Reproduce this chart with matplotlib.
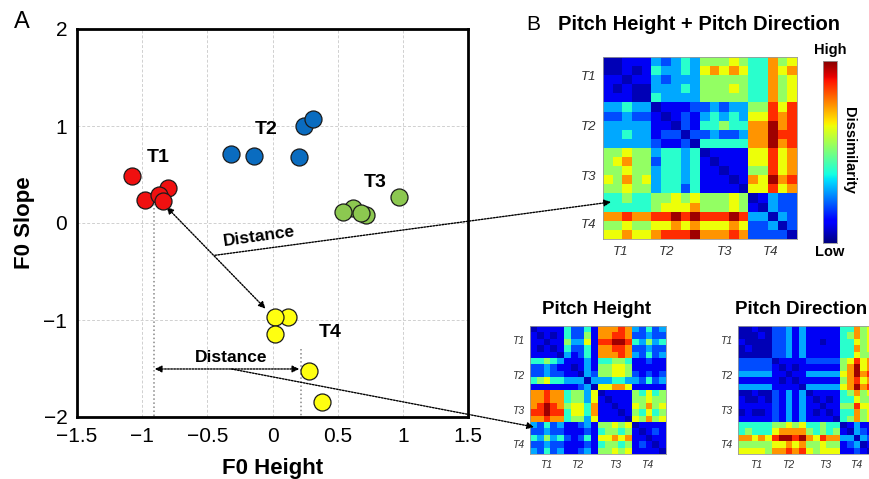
import matplotlib
matplotlib.use("Agg")
import matplotlib.pyplot as plt
import numpy as np

plt.rcParams["font.family"] = ["Liberation Sans", "DejaVu Sans"]

# ---------------------------------------------------------------------------
# Panel A: tone tokens in F0 height / F0 slope space
# ---------------------------------------------------------------------------
T1_X = [-1.08, -0.80, -0.98, -0.87, -0.84]
T1_Y = [0.48, 0.36, 0.24, 0.29, 0.23]
T2_X = [-0.32, -0.14, 0.20, 0.24, 0.31]
T2_Y = [0.71, 0.69, 0.68, 1.00, 1.07]
T3_X = [0.62, 0.54, 0.72, 0.68, 0.97]
T3_Y = [0.15, 0.11, 0.08, 0.10, 0.27]
T4_X = [0.12, 0.02, 0.02, 0.28, 0.38]
T4_Y = [-0.97, -0.97, -1.14, -1.53, -1.85]

TONES = ["T1", "T2", "T3", "T4"]
TONE_COLORS = ["#f01010", "#0a6cc0", "#8cc850", "#ffff10"]
LABEL_POS = [(-0.88, 0.68), (-0.05, 0.96), (0.79, 0.42), (0.44, -1.13)]

# ---------------------------------------------------------------------------
# Panel B: dissimilarity matrices (levels 0 = low ... 9 = high), 5 tokens/tone
# ---------------------------------------------------------------------------
LEVEL_VALUES = [0.05, 0.105, 0.20, 0.29, 0.40, 0.53, 0.64, 0.75, 0.86, 0.97]

BOTH_ROWS = [
    "00111 32343 55565 44756",
    "00101 43343 67676 44767",
    "11011 32333 55555 44756",
    "10100 33343 55565 44756",
    "11100 43333 55555 44756",
    "33433 01112 23233 55868",
    "22322 10121 34343 66878",
    "33333 11021 44544 77978",
    "33433 12202 23223 77988",
    "33333 21120 44444 77978",
    "55655 34434 01111 66867",
    "56755 24434 10111 66867",
    "55655 34434 11011 55867",
    "65756 34434 11101 76978",
    "55655 34424 11110 66867",
    "44544 55656 55565 01322",
    "44444 56667 55565 10322",
    "77877 88989 88898 33032",
    "55655 66767 66676 22302",
    "66766 78889 77787 22220",
]

HEIGHT_ROWS = [
    "01111 42241 77787 32423",
    "10101 42251 77887 22322",
    "11011 53361 88998 43534",
    "10101 42241 77887 22322",
    "11110 31241 77787 32423",
    "44543 11131 44554 11211",
    "22321 10131 55665 11111",
    "22322 11032 55665 21212",
    "45644 33303 33443 32423",
    "11111 11230 66776 11111",
    "77877 45536 01111 54645",
    "77877 45536 10111 55655",
    "78987 56647 11011 65756",
    "88988 46647 11101 54645",
    "77877 45536 11110 65756",
    "32423 11231 55656 01111",
    "22322 11121 45545 10121",
    "43534 21241 66767 11011",
    "22322 11121 45545 12101",
    "32423 11231 55656 11110",
]

DIRECTION_ROWS = [
    "00100 22313 11111 44756",
    "00010 22313 11111 45756",
    "10000 22313 11011 44656",
    "01000 22313 11111 44756",
    "00000 22313 11111 44655",
    "22222 01111 22222 56867",
    "22222 10101 11111 57967",
    "33333 11011 33333 67978",
    "11111 10101 11111 57867",
    "33333 11110 33333 67978",
    "00100 21313 01111 45756",
    "10010 21313 10101 44655",
    "11111 21313 11011 55866",
    "01001 21313 10101 44756",
    "11111 21313 11110 45756",
    "44444 55656 44544 01311",
    "45444 67777 54545 10321",
    "77676 89989 76877 33032",
    "55555 66767 55655 12301",
    "66665 77878 65666 11210",
]


def levels(rows):
    return np.array([[LEVEL_VALUES[int(c)] for c in r.replace(" ", "")] for r in rows])


def draw_rdm(ax, mat, rpos, cpos, fs, pad):
    ax.imshow(mat, cmap="jet", vmin=0, vmax=1, aspect="auto", interpolation="nearest")
    ax.set_xticks(cpos)
    ax.set_xticklabels(TONES, fontsize=fs, style="italic", color="#333333")
    ax.set_yticks(rpos)
    ax.set_yticklabels(TONES, fontsize=fs, style="italic", color="#333333")
    ax.tick_params(length=0, pad=pad)
    for s in ax.spines.values():
        s.set_color("#999999")
        s.set_linewidth(0.6)


W, H = 869, 479
fig = plt.figure(figsize=(W / 100, H / 100), dpi=100)


def fx(px):
    return px / W


def fy(py):
    return 1 - py / H


# ---------------------------------------------------------------------------
# Panel A
# ---------------------------------------------------------------------------
ax = fig.add_axes([fx(77), fy(417), fx(468) - fx(77), fy(29) - fy(417)])
ax.set_zorder(5)
ax.set_xlim(-1.5, 1.5)
ax.set_ylim(-2, 2)
ax.set_xticks(np.arange(-1.5, 1.51, 0.5))
ax.set_xticklabels(["\u22121.5", "\u22121", "\u22120.5", "0", "0.5", "1", "1.5"])
ax.set_yticks([-2, -1, 0, 1, 2])
ax.set_yticklabels(["\u22122", "\u22121", "0", "1", "2"])
ax.tick_params(labelsize=15, length=0, pad=7)
ax.grid(color="#d0d0d0", linestyle=(0, (3, 2)), linewidth=0.7)
ax.set_axisbelow(True)
for s in ax.spines.values():
    s.set_linewidth(2)
ax.set_xlabel("F0 Height", fontsize=16, fontweight="bold", labelpad=9)
ax.set_ylabel("F0 Slope", fontsize=16, fontweight="bold", labelpad=6)

# guide lines
ax.plot([-0.91, -0.91], [0.2, -2], color="#888888", linestyle=":", linewidth=1.1, zorder=1)
ax.plot([0.217, 0.217], [-1.3, -2], color="#888888", linestyle=":", linewidth=1.1, zorder=1)

arrow_kw = dict(arrowstyle="<|-|>", linestyle=(0, (1.2, 1)), color="black", lw=1.0,
                mutation_scale=10, shrinkA=0, shrinkB=0)
ax.annotate("", xy=(-0.813, 0.165), xytext=(-0.054, -0.883), arrowprops=arrow_kw)
ax.annotate("", xy=(-0.903, -1.505), xytext=(0.205, -1.505), arrowprops=arrow_kw)

for xs, ys, c in zip([T1_X, T2_X, T3_X, T4_X], [T1_Y, T2_Y, T3_Y, T4_Y], TONE_COLORS):
    ax.scatter(xs, ys, s=150, color=c, edgecolor="#1a1a1a", linewidth=0.9, zorder=3)

for t, (lx, ly) in zip(TONES, LABEL_POS):
    ax.text(lx, ly, t, fontsize=14, fontweight="bold", ha="center", va="center")

ax.text(-0.10, -0.14, "Distance", fontsize=12.5, fontweight="bold", ha="center",
        va="center", rotation=8)
ax.text(-0.315, -1.39, "Distance", fontsize=12.5, fontweight="bold", ha="center", va="center")

link_kw = dict(arrowstyle="-|>", linestyle=(0, (1.2, 1)), color="black", lw=1.0,
               mutation_scale=10, shrinkA=0, shrinkB=0)
ax.annotate("", xy=(fx(611), fy(202)), xycoords="figure fraction",
            xytext=(-0.442, -0.333), textcoords="data", arrowprops=link_kw,
            annotation_clip=False)
ax.annotate("", xy=(fx(534), fy(427)), xycoords="figure fraction",
            xytext=(-0.315, -1.505), textcoords="data", arrowprops=link_kw,
            annotation_clip=False)

fig.text(fx(22), fy(22), "A", fontsize=17, ha="center", va="center")

# ---------------------------------------------------------------------------
# Panel B
# ---------------------------------------------------------------------------
fig.text(fx(533), fy(24), "B", fontsize=15, ha="center", va="center")
fig.text(fx(699), fy(24), "Pitch Height + Pitch Direction", fontsize=14.5,
         fontweight="bold", ha="center", va="center")

ax_b = fig.add_axes([fx(603), fy(239), fx(797) - fx(603), fy(57) - fy(239)])
draw_rdm(ax_b, levels(BOTH_ROWS), [1.5, 7.0, 12.5, 17.8], [1.3, 6.1, 12.0, 16.8], 9.5, 5)

cax = fig.add_axes([fx(823), fy(243), fx(837) - fx(823), fy(61) - fy(243)])
grad = np.linspace(0, 1, 256).reshape(-1, 1)
cax.imshow(grad, cmap="jet", aspect="auto", origin="lower")
cax.set_xticks([])
cax.set_yticks([])
for s in cax.spines.values():
    s.set_color("#999999")
    s.set_linewidth(0.6)
fig.text(fx(830), fy(50), "High", fontsize=10.5, fontweight="bold", ha="center", va="center")
fig.text(fx(830), fy(252), "Low", fontsize=10.5, fontweight="bold", ha="center", va="center")
fig.text(fx(849), fy(150), "Dissimilarity", fontsize=10.5, fontweight="bold",
         ha="center", va="center", rotation=270)

ax_h = fig.add_axes([fx(530), fy(454), fx(666) - fx(530), fy(326) - fy(454)])
draw_rdm(ax_h, levels(HEIGHT_ROWS), [1.7, 7.2, 12.6, 17.9], [1.8, 6.5, 12.0, 16.7], 7.5, 4)
fig.text(fx(597), fy(310), "Pitch Height", fontsize=13.5, fontweight="bold",
         ha="center", va="center")

ax_d = fig.add_axes([fx(738), fy(454), fx(874) - fx(738), fy(326) - fy(454)])
draw_rdm(ax_d, levels(DIRECTION_ROWS), [1.7, 7.2, 12.6, 17.9], [2.2, 6.8, 12.3, 16.8], 7.5, 4)
fig.text(fx(801), fy(310), "Pitch Direction", fontsize=13.5, fontweight="bold",
         ha="center", va="center")

fig.savefig("out.png", dpi=100)
